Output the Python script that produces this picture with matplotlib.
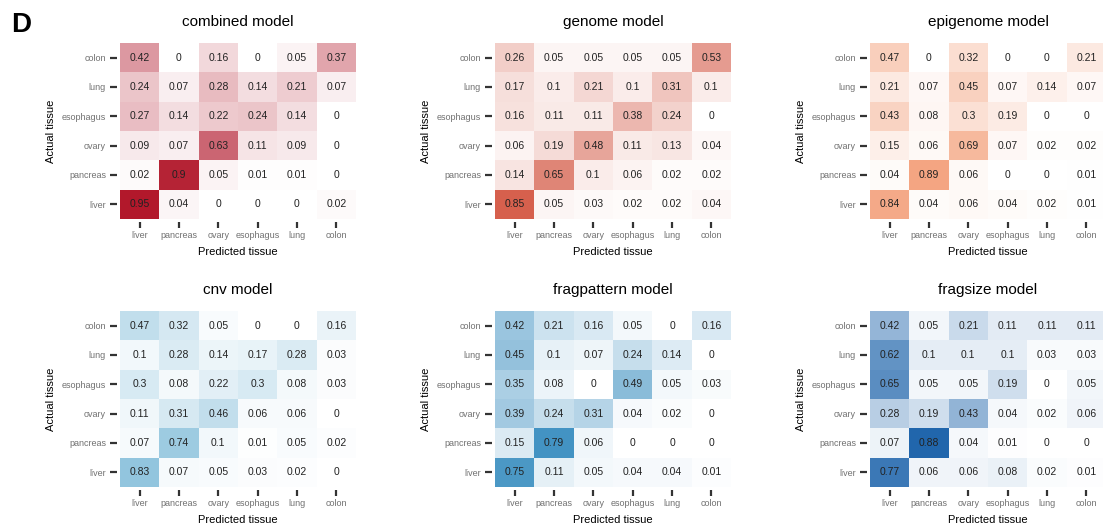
import numpy as np
import matplotlib
matplotlib.use("Agg")
import matplotlib.pyplot as plt
from matplotlib.colors import LinearSegmentedColormap

plt.rcParams['font.family'] = ['Liberation Sans', 'DejaVu Sans']

actual = ["colon", "lung", "esophagus", "ovary", "pancreas", "liver"]
predicted = ["liver", "pancreas", "ovary", "esophagus", "lung", "colon"]

combined = [
    [0.42, 0, 0.16, 0, 0.05, 0.37],
    [0.24, 0.07, 0.28, 0.14, 0.21, 0.07],
    [0.27, 0.14, 0.22, 0.24, 0.14, 0],
    [0.09, 0.07, 0.63, 0.11, 0.09, 0],
    [0.02, 0.9, 0.05, 0.01, 0.01, 0],
    [0.95, 0.04, 0, 0, 0, 0.02],
]
genome = [
    [0.26, 0.05, 0.05, 0.05, 0.05, 0.53],
    [0.17, 0.1, 0.21, 0.1, 0.31, 0.1],
    [0.16, 0.11, 0.11, 0.38, 0.24, 0],
    [0.06, 0.19, 0.48, 0.11, 0.13, 0.04],
    [0.14, 0.65, 0.1, 0.06, 0.02, 0.02],
    [0.85, 0.05, 0.03, 0.02, 0.02, 0.04],
]
epigenome = [
    [0.47, 0, 0.32, 0, 0, 0.21],
    [0.21, 0.07, 0.45, 0.07, 0.14, 0.07],
    [0.43, 0.08, 0.3, 0.19, 0, 0],
    [0.15, 0.06, 0.69, 0.07, 0.02, 0.02],
    [0.04, 0.89, 0.06, 0, 0, 0.01],
    [0.84, 0.04, 0.06, 0.04, 0.02, 0.01],
]
cnv = [
    [0.47, 0.32, 0.05, 0, 0, 0.16],
    [0.1, 0.28, 0.14, 0.17, 0.28, 0.03],
    [0.3, 0.08, 0.22, 0.3, 0.08, 0.03],
    [0.11, 0.31, 0.46, 0.06, 0.06, 0],
    [0.07, 0.74, 0.1, 0.01, 0.05, 0.02],
    [0.83, 0.07, 0.05, 0.03, 0.02, 0],
]
fragpattern = [
    [0.42, 0.21, 0.16, 0.05, 0, 0.16],
    [0.45, 0.1, 0.07, 0.24, 0.14, 0],
    [0.35, 0.08, 0, 0.49, 0.05, 0.03],
    [0.39, 0.24, 0.31, 0.04, 0.02, 0],
    [0.15, 0.79, 0.06, 0, 0, 0],
    [0.75, 0.11, 0.05, 0.04, 0.04, 0.01],
]
fragsize = [
    [0.42, 0.05, 0.21, 0.11, 0.11, 0.11],
    [0.62, 0.1, 0.1, 0.1, 0.03, 0.03],
    [0.65, 0.05, 0.05, 0.19, 0, 0.05],
    [0.28, 0.19, 0.43, 0.04, 0.02, 0.06],
    [0.07, 0.88, 0.04, 0.01, 0, 0],
    [0.77, 0.06, 0.06, 0.08, 0.02, 0.01],
]

titles = ["combined model", "genome model", "epigenome model",
          "cnv model", "fragpattern model", "fragsize model"]
datasets = [combined, genome, epigenome, cnv, fragpattern, fragsize]
colors = ["#b2182b", "#d6604d", "#f4a582", "#92c5de", "#4393c3", "#2166ac"]

W, H = 1103, 527
fig = plt.figure(figsize=(W / 100, H / 100), dpi=100)

lefts = [120, 495, 870]
tops = [43, 311]
aw, ah = 236, 176

for i, (title, data, col) in enumerate(zip(titles, datasets, colors)):
    r, c = divmod(i, 3)
    left = lefts[c] / W
    bottom = 1 - (tops[r] + ah) / H
    ax = fig.add_axes([left, bottom, aw / W, ah / H])
    arr = np.array(data, dtype=float)
    cmap = LinearSegmentedColormap.from_list("m%d" % i, ["#ffffff", col])
    ax.imshow(arr, cmap=cmap, vmin=0, vmax=arr.max(), aspect="auto",
              interpolation="nearest")
    for yi in range(arr.shape[0]):
        for xi in range(arr.shape[1]):
            v = arr[yi, xi]
            s = "0" if v == 0 else ("%g" % v)
            ax.text(xi, yi, s, ha="center", va="center", fontsize=7.5,
                    color="#222222")
    ax.set_xticks(range(len(predicted)))
    ax.set_xticklabels(predicted)
    ax.set_yticks(range(len(actual)))
    ax.set_yticklabels(actual)
    for sp in ax.spines.values():
        sp.set_visible(False)
    ax.spines['bottom'].set_position(('outward', 2))
    ax.spines['left'].set_position(('outward', 2))
    ax.tick_params(axis='x', length=4, width=1.6, color="#333333",
                   labelsize=6.5, labelcolor="#707070", pad=3)
    ax.tick_params(axis='y', length=5, width=1.6, color="#333333",
                   labelsize=6.5, labelcolor="#707070", pad=3)
    ax.set_xlabel("Predicted tissue", fontsize=8, labelpad=5)
    ax.set_ylabel("Actual tissue", fontsize=8, labelpad=4)
    ax.set_title(title, fontsize=11, pad=12)

fig.text(11 / W, 1 - 25 / H, "D", fontsize=20, fontweight="bold",
         va="center", ha="left")

fig.savefig("out.png", dpi=100)
